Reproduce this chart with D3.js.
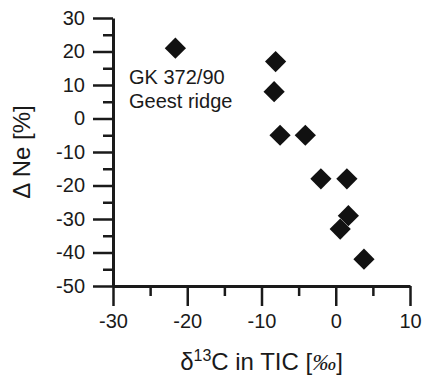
<!DOCTYPE html>
<html>
<head>
<meta charset="utf-8">
<script src="https://cdn.jsdelivr.net/npm/d3@7"></script>
<style>
  body { margin: 0; background: #fff; }
  text { font-family: 'Liberation Sans', Arial, Helvetica, sans-serif; fill: #1a1a1a; }
</style>
</head>
<body>
<div id="chart"></div>
<script>
// Data: d13C in TIC [permil] vs delta Ne [%]
let d13C = [-21.6, -8.1, -8.3, -7.5, -4.1, -2.0, 1.5, 1.7, 0.6, 3.8];
let deltaNe = [21, 17, 8, -5, -5, -18, -18, -29, -33, -42];
let xTicks = [-30, -20, -10, 0, 10];
let yTicks = [30, 20, 10, 0, -10, -20, -30, -40, -50];

let width = 422;
let height = 375;
let margin = {top: 18, right: 12, bottom: 89, left: 113};

let svg = d3.select('#chart')
  .append('svg')
  .attr('width', width)
  .attr('height', height);

let x = d3.scaleLinear().domain([-30, 10]).range([margin.left, width - margin.right]);
let y = d3.scaleLinear().domain([-50, 30]).range([height - margin.bottom, margin.top]);

let ink = '#1a1a1a';

// Axes: major ticks every 10, minor ticks every 5 (own group, so the
// major call doesn't remove them)
function drawAxis(axis, minorAxis, transform) {
  let minor = svg.append('g').attr('transform', transform).call(minorAxis);
  minor.select('path.domain').remove();
  let g = svg.append('g').attr('transform', transform).call(axis);
  [minor, g].forEach(s => {
    s.selectAll('line').attr('stroke', ink).attr('stroke-width', 2.5);
  });
  g.select('path.domain').attr('stroke', ink).attr('stroke-width', 3);
  g.selectAll('text').style('font-size', '20px').attr('fill', ink);
  return g;
}

let xMinor = d3.axisBottom(x).tickValues(d3.range(-25, 10, 10)).tickSize(10).tickFormat('');
let xMajor = d3.axisBottom(x).tickValues(xTicks).tickSize(20).tickSizeOuter(0).tickPadding(8).tickFormat(d => String(d));
drawAxis(xMajor, xMinor, 'translate(0,' + y(-50) + ')');

let yMinor = d3.axisLeft(y).tickValues(d3.range(-45, 30, 10)).tickSize(10).tickFormat('');
let yMajor = d3.axisLeft(y).tickValues(yTicks).tickSize(20).tickSizeOuter(0).tickPadding(8).tickFormat(d => String(d));
drawAxis(yMajor, yMinor, 'translate(' + x(-30) + ',0)');

// Diamond markers
let diamond = d3.symbol().type(d3.symbolSquare).size(225);
svg.append('g')
  .selectAll('path')
  .data(d13C.map((v, i) => [v, deltaNe[i]]))
  .join('path')
  .attr('d', diamond)
  .attr('transform', d => 'translate(' + x(d[0]) + ',' + y(d[1]) + ') rotate(45)')
  .attr('fill', '#111');

// Sample label
let label = svg.append('text')
  .attr('x', x(-30) + 16)
  .attr('y', 84)
  .style('font-size', '20px');
label.append('tspan').text('GK 372/90');
label.append('tspan').attr('x', x(-30) + 16).attr('dy', 24).text('Geest ridge');

// Axis titles
let xTitle = svg.append('text')
  .attr('x', (x(-30) + x(10)) / 2)
  .attr('y', 370)
  .attr('text-anchor', 'middle')
  .style('font-size', '24px');
xTitle.append('tspan').text('\u03b4');
xTitle.append('tspan').attr('dy', -9).style('font-size', '16px').text('13');
xTitle.append('tspan').attr('dy', 9).text('C in TIC [');
xTitle.append('tspan').style('font-family', "'Liberation Serif', 'Times New Roman', serif").style('font-style', 'italic').text('\u2030');
xTitle.append('tspan').text(']');

svg.append('text')
  .attr('transform', 'translate(30,' + ((y(30) + y(-50)) / 2) + ') rotate(-90)')
  .attr('text-anchor', 'middle')
  .style('font-size', '24px')
  .text('\u0394 Ne [%]');
</script>
</body>
</html>
